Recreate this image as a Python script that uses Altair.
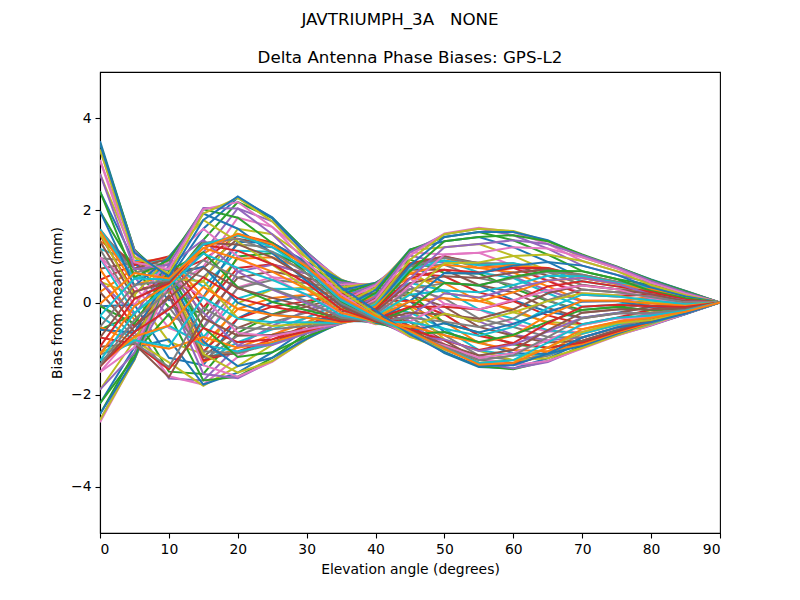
import altair as alt
import pandas as pd

# Elevation angles (x axis)
elevations = [0, 5, 10, 15, 20, 25, 30, 35, 40, 45, 50, 55, 60, 65, 70, 75, 80, 85, 90]

# Bias values (mm), set A: one entry per azimuth line (36 lines) at each elevation
a00 = [3.50,3.45,3.32,3.09,2.79,2.41,1.98,1.49,0.98,0.45,-0.08,-0.59,-1.08,-1.51,-1.89,-2.19,-2.42,-2.55,-2.60,-2.55,-2.42,-2.19,-1.89,-1.51,-1.08,-0.59,-0.08,0.45,0.98,1.49,1.98,2.41,2.79,3.09,3.32,3.45]
a05 = [1.13,1.15,1.13,1.08,0.99,0.87,0.72,0.55,0.36,0.16,-0.05,-0.26,-0.46,-0.65,-0.82,-0.97,-1.09,-1.18,-1.23,-1.25,-1.23,-1.18,-1.09,-0.97,-0.82,-0.65,-0.46,-0.26,-0.05,0.16,0.36,0.55,0.72,0.87,0.99,1.08]
a10 = [0.50,0.42,0.35,0.28,0.20,0.05,-0.10,-0.30,-0.55,-0.85,-1.20,-1.50,-1.65,-1.60,-1.30,-0.80,-0.25,0.15,0.40,0.55,0.60,0.62,0.60,0.55,0.52,0.58,0.68,0.80,0.92,1.00,0.98,0.92,0.82,0.72,0.63,0.56]
a15 = [1.60,1.36,1.09,0.78,0.46,0.12,-0.22,-0.54,-0.85,-1.12,-1.36,-1.55,-1.69,-1.78,-1.81,-1.78,-1.69,-1.55,-1.36,-1.12,-0.85,-0.54,-0.22,0.12,0.46,0.78,1.09,1.36,1.60,1.79,1.93,2.02,2.05,2.02,1.93,1.79]
a20 = [2.27,2.18,2.04,1.84,1.60,1.32,1.00,0.67,0.33,-0.01,-0.34,-0.66,-0.94,-1.18,-1.38,-1.52,-1.61,-1.64,-1.61,-1.52,-1.38,-1.18,-0.94,-0.66,-0.34,-0.01,0.33,0.67,1.00,1.32,1.60,1.84,2.04,2.18,2.27,2.30]
a25 = [1.85,1.83,1.76,1.64,1.48,1.29,1.07,0.82,0.55,0.28,0.01,-0.26,-0.51,-0.73,-0.92,-1.08,-1.20,-1.27,-1.29,-1.27,-1.20,-1.08,-0.92,-0.73,-0.51,-0.26,0.01,0.28,0.55,0.82,1.07,1.29,1.48,1.64,1.76,1.83]
a30 = [1.09,1.10,1.09,1.04,0.97,0.88,0.76,0.63,0.47,0.32,0.15,-0.02,-0.17,-0.33,-0.46,-0.58,-0.67,-0.74,-0.79,-0.80,-0.79,-0.74,-0.67,-0.58,-0.46,-0.33,-0.17,-0.02,0.15,0.32,0.47,0.63,0.76,0.88,0.97,1.04]
a35 = [0.39,0.44,0.47,0.49,0.50,0.49,0.47,0.44,0.39,0.33,0.26,0.18,0.10,0.02,-0.06,-0.14,-0.22,-0.29,-0.35,-0.40,-0.43,-0.45,-0.46,-0.45,-0.43,-0.40,-0.35,-0.29,-0.22,-0.14,-0.06,0.02,0.10,0.18,0.26,0.33]
a40 = [-0.10,-0.02,0.06,0.13,0.21,0.27,0.32,0.37,0.40,0.42,0.43,0.42,0.40,0.37,0.32,0.27,0.21,0.13,0.06,-0.02,-0.10,-0.17,-0.25,-0.31,-0.36,-0.41,-0.44,-0.46,-0.47,-0.46,-0.44,-0.41,-0.36,-0.31,-0.25,-0.17]
a45 = [-0.62,-0.53,-0.41,-0.28,-0.12,0.03,0.20,0.37,0.52,0.68,0.81,0.93,1.02,1.09,1.14,1.15,1.14,1.09,1.02,0.93,0.81,0.68,0.52,0.37,0.20,0.03,-0.12,-0.28,-0.41,-0.53,-0.62,-0.69,-0.74,-0.75,-0.74,-0.69]
a50 = [-1.10,-1.08,-1.02,-0.93,-0.80,-0.64,-0.45,-0.24,-0.03,0.20,0.43,0.64,0.85,1.04,1.20,1.33,1.42,1.48,1.50,1.48,1.42,1.33,1.20,1.04,0.85,0.64,0.43,0.20,-0.03,-0.24,-0.45,-0.64,-0.80,-0.93,-1.02,-1.08]
a55 = [-1.40,-1.38,-1.31,-1.20,-1.05,-0.86,-0.65,-0.41,-0.15,0.11,0.37,0.63,0.87,1.08,1.27,1.42,1.53,1.60,1.62,1.60,1.53,1.42,1.27,1.08,0.87,0.63,0.37,0.11,-0.15,-0.41,-0.65,-0.86,-1.05,-1.20,-1.31,-1.38]
a60 = [-1.43,-1.45,-1.43,-1.36,-1.25,-1.10,-0.91,-0.70,-0.46,-0.21,0.05,0.31,0.56,0.80,1.01,1.20,1.35,1.46,1.53,1.55,1.53,1.46,1.35,1.20,1.01,0.80,0.56,0.31,0.05,-0.21,-0.46,-0.70,-0.91,-1.10,-1.25,-1.36]
a65 = [-1.21,-1.27,-1.29,-1.27,-1.21,-1.11,-0.98,-0.82,-0.63,-0.42,-0.20,0.03,0.26,0.48,0.69,0.88,1.04,1.17,1.27,1.33,1.35,1.33,1.27,1.17,1.04,0.88,0.69,0.48,0.26,0.03,-0.20,-0.42,-0.63,-0.82,-0.98,-1.11]
a70 = [-0.86,-0.94,-0.98,-1.00,-0.98,-0.94,-0.86,-0.76,-0.64,-0.49,-0.33,-0.16,0.02,0.20,0.37,0.53,0.68,0.80,0.90,0.98,1.02,1.04,1.02,0.98,0.90,0.80,0.68,0.53,0.37,0.20,0.02,-0.16,-0.33,-0.49,-0.64,-0.76]
a75 = [-0.62,-0.68,-0.71,-0.72,-0.71,-0.68,-0.62,-0.54,-0.45,-0.35,-0.23,-0.10,0.03,0.16,0.29,0.41,0.51,0.60,0.68,0.74,0.77,0.78,0.77,0.74,0.68,0.60,0.51,0.41,0.29,0.16,0.03,-0.10,-0.23,-0.35,-0.45,-0.54]
a80 = [-0.47,-0.49,-0.50,-0.49,-0.47,-0.43,-0.38,-0.32,-0.25,-0.17,-0.09,0.00,0.09,0.17,0.25,0.32,0.38,0.43,0.47,0.49,0.50,0.49,0.47,0.43,0.38,0.32,0.25,0.17,0.09,0.00,-0.09,-0.17,-0.25,-0.32,-0.38,-0.43]
a85 = [-0.25,-0.25,-0.25,-0.24,-0.22,-0.19,-0.16,-0.13,-0.09,-0.04,0.00,0.04,0.09,0.13,0.16,0.19,0.22,0.24,0.25,0.25,0.25,0.24,0.22,0.19,0.16,0.13,0.09,0.04,0.00,-0.04,-0.09,-0.13,-0.16,-0.19,-0.22,-0.24]
a90 = [0.0,0.0,0.0,0.0,0.0,0.0,0.0,0.0,0.0,0.0,0.0,0.0,0.0,0.0,0.0,0.0,0.0,0.0,0.0,0.0,0.0,0.0,0.0,0.0,0.0,0.0,0.0,0.0,0.0,0.0,0.0,0.0,0.0,0.0,0.0,0.0]

# Bias values (mm), set B: 36 more azimuth lines, interleaved with set A
b00 = [0.23,0.49,0.73,0.96,1.16,1.33,1.46,1.55,1.59,1.59,1.55,1.46,1.33,1.16,0.96,0.73,0.49,0.23,-0.03,-0.29,-0.53,-0.76,-0.96,-1.13,-1.26,-1.35,-1.39,-1.39,-1.35,-1.26,-1.13,-0.96,-0.76,-0.53,-0.29,-0.03]
b05 = [0.74,0.82,0.87,0.90,0.90,0.87,0.82,0.74,0.64,0.52,0.38,0.23,0.08,-0.08,-0.23,-0.38,-0.52,-0.64,-0.74,-0.82,-0.87,-0.90,-0.90,-0.87,-0.82,-0.74,-0.64,-0.52,-0.38,-0.23,-0.08,0.08,0.23,0.38,0.52,0.64]
b10 = [0.55,0.62,0.70,0.80,0.90,0.97,1.00,0.95,0.85,0.72,0.60,0.50,0.45,0.42,0.40,0.38,0.30,0.15,-0.10,-0.50,-1.00,-1.45,-1.62,-1.40,-0.95,-0.50,-0.15,0.10,0.25,0.35,0.40,0.42,0.45,0.48,0.50,0.52]
b15 = [1.06,0.92,0.75,0.55,0.34,0.11,-0.11,-0.34,-0.55,-0.75,-0.92,-1.06,-1.18,-1.26,-1.29,-1.29,-1.26,-1.18,-1.06,-0.92,-0.75,-0.55,-0.34,-0.11,0.11,0.34,0.55,0.75,0.92,1.06,1.18,1.26,1.29,1.29,1.26,1.18]
b20 = [1.49,1.46,1.38,1.26,1.12,0.95,0.75,0.54,0.31,0.09,-0.14,-0.35,-0.55,-0.72,-0.86,-0.98,-1.06,-1.10,-1.10,-1.06,-0.98,-0.86,-0.72,-0.55,-0.35,-0.14,0.09,0.31,0.54,0.75,0.95,1.12,1.26,1.38,1.46,1.49]
b25 = [1.30,1.30,1.26,1.20,1.10,0.98,0.83,0.67,0.49,0.30,0.10,-0.09,-0.27,-0.43,-0.58,-0.70,-0.80,-0.86,-0.90,-0.90,-0.86,-0.80,-0.70,-0.58,-0.43,-0.27,-0.09,0.10,0.30,0.49,0.67,0.83,0.98,1.10,1.20,1.26]
b30 = [0.82,0.85,0.85,0.82,0.78,0.71,0.63,0.53,0.42,0.29,0.17,0.03,-0.09,-0.22,-0.33,-0.43,-0.51,-0.58,-0.62,-0.65,-0.65,-0.62,-0.58,-0.51,-0.43,-0.33,-0.22,-0.09,0.03,0.17,0.29,0.42,0.53,0.63,0.71,0.78]
b35 = [0.18,0.23,0.28,0.31,0.34,0.35,0.35,0.34,0.31,0.28,0.23,0.18,0.12,0.05,-0.02,-0.08,-0.15,-0.22,-0.28,-0.33,-0.38,-0.41,-0.44,-0.45,-0.45,-0.44,-0.41,-0.38,-0.33,-0.28,-0.22,-0.15,-0.08,-0.02,0.05,0.12]
b40 = [-0.25,-0.20,-0.15,-0.09,-0.04,0.01,0.05,0.09,0.13,0.15,0.17,0.18,0.18,0.17,0.15,0.13,0.09,0.05,0.01,-0.04,-0.09,-0.15,-0.20,-0.25,-0.29,-0.33,-0.37,-0.39,-0.41,-0.42,-0.42,-0.41,-0.39,-0.37,-0.33,-0.29]
b45 = [-0.58,-0.51,-0.43,-0.33,-0.22,-0.09,0.03,0.17,0.29,0.42,0.53,0.63,0.71,0.78,0.82,0.85,0.85,0.82,0.78,0.71,0.63,0.53,0.42,0.29,0.17,0.03,-0.09,-0.22,-0.33,-0.43,-0.51,-0.58,-0.62,-0.65,-0.65,-0.62]
b50 = [-0.97,-0.91,-0.82,-0.71,-0.57,-0.42,-0.26,-0.09,0.09,0.26,0.42,0.57,0.71,0.82,0.91,0.97,1.00,1.00,0.97,0.91,0.82,0.71,0.57,0.42,0.26,0.09,-0.09,-0.26,-0.42,-0.57,-0.71,-0.82,-0.91,-0.97,-1.00,-1.00]
b55 = [-1.35,-1.31,-1.25,-1.15,-1.03,-0.88,-0.72,-0.53,-0.35,-0.15,0.03,0.22,0.38,0.53,0.65,0.75,0.81,0.85,0.85,0.81,0.75,0.65,0.53,0.38,0.22,0.03,-0.15,-0.35,-0.53,-0.72,-0.88,-1.03,-1.15,-1.25,-1.31,-1.35]
b60 = [-1.35,-1.35,-1.31,-1.25,-1.15,-1.03,-0.88,-0.72,-0.53,-0.35,-0.15,0.03,0.22,0.38,0.53,0.65,0.75,0.81,0.85,0.85,0.81,0.75,0.65,0.53,0.38,0.22,0.03,-0.15,-0.35,-0.53,-0.72,-0.88,-1.03,-1.15,-1.25,-1.31]
b65 = [-1.06,-1.12,-1.15,-1.15,-1.12,-1.06,-0.98,-0.87,-0.75,-0.60,-0.45,-0.28,-0.12,0.05,0.20,0.35,0.47,0.58,0.66,0.72,0.75,0.75,0.72,0.66,0.58,0.47,0.35,0.20,0.05,-0.12,-0.28,-0.45,-0.60,-0.75,-0.87,-0.98]
b70 = [-0.68,-0.76,-0.83,-0.87,-0.90,-0.90,-0.87,-0.83,-0.76,-0.68,-0.58,-0.47,-0.34,-0.22,-0.09,0.04,0.17,0.28,0.38,0.46,0.53,0.57,0.60,0.60,0.57,0.53,0.46,0.38,0.28,0.17,0.04,-0.09,-0.22,-0.34,-0.47,-0.58]
b75 = [-0.49,-0.55,-0.60,-0.63,-0.65,-0.65,-0.63,-0.60,-0.55,-0.49,-0.42,-0.33,-0.24,-0.15,-0.05,0.04,0.13,0.22,0.29,0.35,0.40,0.43,0.45,0.45,0.43,0.40,0.35,0.29,0.22,0.13,0.04,-0.05,-0.15,-0.24,-0.33,-0.42]
b80 = [-0.38,-0.41,-0.44,-0.45,-0.45,-0.44,-0.41,-0.38,-0.33,-0.28,-0.22,-0.15,-0.08,-0.02,0.05,0.12,0.18,0.23,0.28,0.31,0.34,0.35,0.35,0.34,0.31,0.28,0.23,0.18,0.12,0.05,-0.02,-0.08,-0.15,-0.22,-0.28,-0.33]
b85 = [-0.21,-0.22,-0.22,-0.21,-0.20,-0.18,-0.16,-0.13,-0.10,-0.07,-0.04,0.00,0.03,0.06,0.09,0.12,0.14,0.16,0.17,0.18,0.18,0.17,0.16,0.14,0.12,0.09,0.06,0.03,0.00,-0.04,-0.07,-0.10,-0.13,-0.16,-0.18,-0.20]
b90 = [0.0,0.0,0.0,0.0,0.0,0.0,0.0,0.0,0.0,0.0,0.0,0.0,0.0,0.0,0.0,0.0,0.0,0.0,0.0,0.0,0.0,0.0,0.0,0.0,0.0,0.0,0.0,0.0,0.0,0.0,0.0,0.0,0.0,0.0,0.0,0.0]

cols_a = [a00, a05, a10, a15, a20, a25, a30, a35, a40, a45, a50, a55, a60, a65, a70, a75, a80, a85, a90]
cols_b = [b00, b05, b10, b15, b20, b25, b30, b35, b40, b45, b50, b55, b60, b65, b70, b75, b80, b85, b90]

tab10 = ["#1f77b4", "#ff7f0e", "#2ca02c", "#d62728", "#9467bd",
         "#8c564b", "#e377c2", "#7f7f7f", "#bcbd22", "#17becf"]

suptitle = "JAVTRIUMPH_3A\u00a0\u00a0\u00a0NONE"
title = "Delta Antenna Phase Biases: GPS-L2"
x_title = "Elevation angle (degrees)"
y_title = "Bias from mean (mm)"
x_ticks = [0, 10, 20, 30, 40, 50, 60, 70, 80, 90]
y_ticks = [-4, -2, 0, 2, 4]

n_az = len(a00)
rows = []
line_ids = []
for i in range(n_az):
    for s, cols in (("a", cols_a), ("b", cols_b)):
        k = len(line_ids)
        lid = f"L{k:02d}"
        line_ids.append(lid)
        for j, el in enumerate(elevations):
            rows.append({"line": lid, "elev": el, "bias": cols[j][i]})
df = pd.DataFrame(rows)
line_colors = [tab10[k % 10] for k in range(len(line_ids))]

FONT = "DejaVu Sans"

lines = alt.Chart(df).mark_line(strokeWidth=2.0, clip=True).encode(
    x=alt.X("elev:Q",
            scale=alt.Scale(domain=[0, 90], nice=False, zero=False),
            axis=alt.Axis(values=x_ticks, title=x_title, grid=False,
                          labelFontSize=13.9, titleFontSize=13.9,
                          titlePadding=7, labelPadding=4, tickSize=5,
                          titleFontWeight="normal")),
    y=alt.Y("bias:Q",
            scale=alt.Scale(domain=[-5, 5], nice=False),
            axis=alt.Axis(values=y_ticks, title=y_title, grid=False,
                          labelFontSize=13.9, titleFontSize=13.9,
                          titlePadding=6, labelPadding=4, tickSize=5,
                          titleFontWeight="normal")),
    color=alt.Color("line:N", scale=alt.Scale(domain=line_ids, range=line_colors), legend=None),
    order=alt.Order("elev:Q"),
)

sup = alt.Chart(pd.DataFrame({"t": [suptitle]})).mark_text(
    font=FONT, fontSize=16.7, align="center", baseline="middle", color="black"
).encode(x=alt.value(300), y=alt.value(-52), text="t:N")

ttl = alt.Chart(pd.DataFrame({"t": [title]})).mark_text(
    font=FONT, fontSize=16.7, align="center", baseline="middle", color="black"
).encode(x=alt.value(310), y=alt.value(-14), text="t:N")

chart = alt.layer(lines, sup, ttl).properties(
    width=620, height=461,
    autosize=alt.AutoSizeParams(type="none"),
    padding={"left": 92, "top": 64, "right": 70, "bottom": 55},
    background="white",
).configure_view(stroke="black", strokeWidth=1.1).configure_axis(
    domainColor="black", domainWidth=1.1, tickColor="black", tickWidth=1.1,
    labelColor="black", titleColor="black", labelFont=FONT, titleFont=FONT,
)

chart.save("out.html", embed_options={"renderer": "svg", "actions": False})
